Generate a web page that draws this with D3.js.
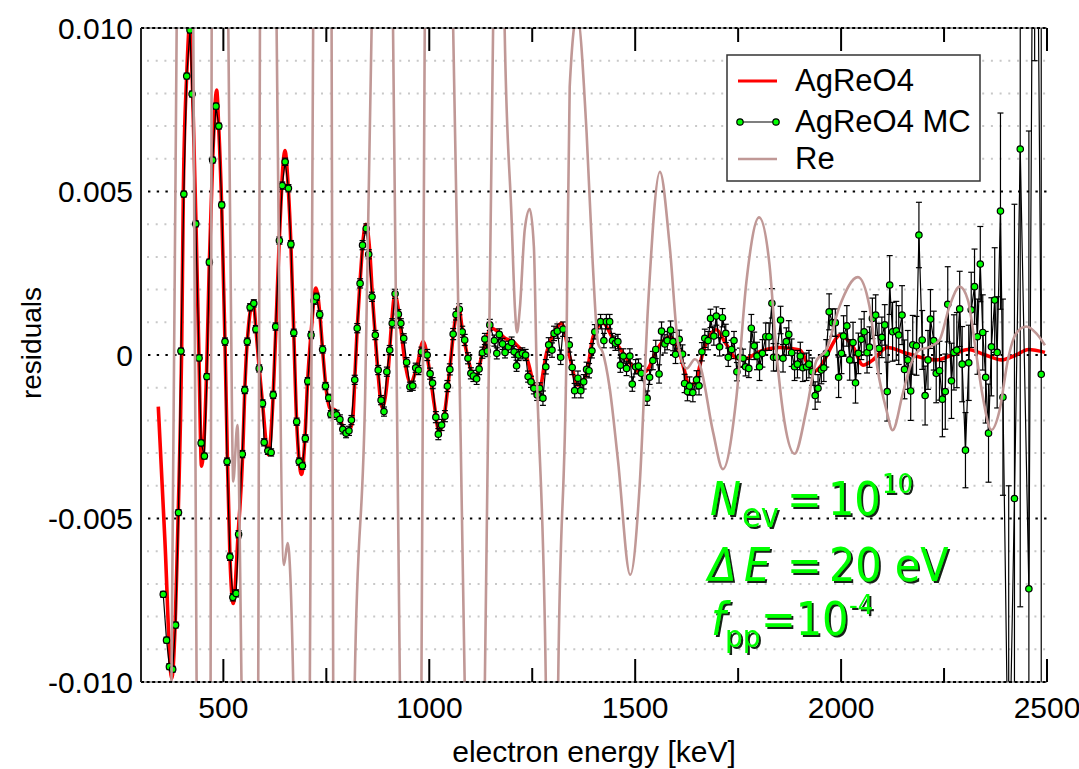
<!DOCTYPE html>
<html><head><meta charset="utf-8">
<script src="https://cdn.jsdelivr.net/npm/d3@7"></script>
<style>
body{margin:0;background:#fff}
svg{display:block}
text{font-family:"Liberation Sans",Arial,Helvetica,sans-serif}
</style>
</head><body>
<svg id="c" width="1079" height="769"></svg>
<script>
// ---------------- data ----------------
const xTicks = [500, 1000, 1500, 2000, 2500];
const xTickLabels = ["500", "1000", "1500", "2000", "2500"];
const xMinorTicks = [750, 1250, 1750, 2250];
const yTicks = [-0.010, -0.005, 0, 0.005, 0.010];
const yTickLabels = ["-0.010", "-0.005", "0", "0.005", "0.010"];
const yMinorGrid = [-0.009,-0.008,-0.007,-0.006,-0.004,-0.003,-0.002,-0.001,0.001,0.002,0.003,0.004,0.006,0.007,0.008,0.009];
const seriesNames = ["AgReO4", "AgReO4 MC", "Re"];

// AgReO4 (red curve): energy [keV] / residual
const agEnergy = [342,358,374.5,390.6,398.7,402.8,411,419,425.4,433.5,440.8,447,459,466,474,483.7,488.6,495.8,503.9,510,516,524,536,547,552,558,572.6,579,587,595,609,621,627.7,635.8,649.5,657.6,664,671,678,690,698,704.5,712.6,724.8,734.5,741,749,758.7,771,783,795,805.6,814,819,825,831.6,846,855.8,862,868.7,875,885.7,900,908.5,916.5,928.6,940.8,954.6,970,985,1002,1012,1024,1037,1050,1060,1071,1080,1094,1111,1130,1151,1163,1185,1204,1212,1236,1264,1285,1309,1321,1341,1361,1382,1398,1422,1446,1471,1495,1515,1530,1552,1584,1605,1618,1632,1648,1665,1697,1720,1746,1765,1802,1852,1900,1924,1932,1950,1964,1988,1997,2029,2053,2077,2112,2160,2231,2270,2308,2350,2390,2425,2455,2495];
const agResidual = [-1.58e-3,-5.66e-3,-9.89e-3,-4.74e-3,0.15e-3,4.95e-3,8.56e-3,10.2e-3,8.0e-3,4.03e-3,-0.09e-3,-3.4e-3,-0.66e-3,2.84e-3,5.96e-3,8.1e-3,7.0e-3,4.59e-3,0.41e-3,-3.26e-3,-6.17e-3,-7.6e-3,-5.45e-3,-3.0e-3,-1.07e-3,0.41e-3,1.65e-3,0.82e-3,-0.4e-3,-1.47e-3,-3.05e-3,-1.22e-3,0.87e-3,3.52e-3,6.25e-3,5.1e-3,3.39e-3,0.66e-3,-2.04e-3,-3.65e-3,-2.55e-3,-0.82e-3,0.61e-3,2.05e-3,1.22e-3,0.15e-3,-0.97e-3,-1.62e-3,-1.68e-3,-1.93e-3,-2.34e-3,-2.29e-3,-1.99e-3,-0.76e-3,0.82e-3,2.19e-3,4.0e-3,3.11e-3,1.78e-3,0.61e-3,-0.46e-3,-1.62e-3,-0.51e-3,0.97e-3,1.85e-3,1.05e-3,-0.2e-3,-0.85e-3,-0.35e-3,0.41e-3,-0.6e-3,-1.5e-3,-2.35e-3,-1.8e-3,-0.4e-3,0.8e-3,1.5e-3,0.8e-3,-0.1e-3,-0.75e-3,0.1e-3,0.82e-3,0.75e-3,0.5e-3,0.41e-3,0.31e-3,-0.07e-3,-1.22e-3,0.07e-3,0.82e-3,0.97e-3,-0.05e-3,-0.92e-3,-0.56e-3,0.56e-3,0.97e-3,0.51e-3,0.05e-3,-0.36e-3,-0.55e-3,-0.45e-3,0.15e-3,0.55e-3,0.2e-3,-0.4e-3,-0.95e-3,-0.75e-3,0.1e-3,0.77e-3,0.35e-3,-0.1e-3,-0.12e-3,0.1e-3,0.23e-3,0.15e-3,-0.41e-3,-0.51e-3,-0.35e-3,-0.05e-3,0.51e-3,0.61e-3,0.25e-3,-0.31e-3,-0.15e-3,0.23e-3,0.05e-3,-0.15e-3,0.0,0.17e-3,0.0,-0.15e-3,0.0,0.17e-3,0.08e-3];

// AgReO4 MC (points with error bars)
const mcEnergy = [
354,362,369,377,384,391,397,404,411,419,424,433,441,446,454,460,466,474,482,489,496,
504,509,516,523,531,537,546,552,558,565,574,579,587,595,599,608,616,621,627,636,643,650,658,664,671,678,684,692,699,705,713,720,726,734,741,748,756,761,769,
775,783,790,798,805,811,819,825,832,838,847,853,861,869,876,883,890,897,904,910,917,925,931,938,945,953,960,967,974,981,
995,1002,1008,1016,1022,1030,1038,1044,1050,1058,1065,1073,1080,1086,1094,1101,1107,1115,1121,1129,1135,1141,1147,1158,1164,1170,1178,1184,1192,1200,1206,1212,1217,1226,1234,1240,1247,1254,1262,1268,
1276,1283,1290,1298,1303,1311,1319,1325,1340,1347,1353,1361,1368,1375,1382,1388,1395,1402,1416,1424,1430,1438,1445,1452,1458,1464,1471,1479,1487,1493,1501,1508,1515,1529,1535,
1543,1550,1558,1564,1572,1578,1586,1592,1598,1607,1615,1620,1627,1632,1640,1649,1655,1662,1669,1677,1683,1691,1697,1705,1712,1720,1726,1734,1740,1747,1754,1762,1768,1776,
1782,1789,1796,1802,1809,1817,1825,1832,1836,1843,1853,1859,1867,1873,1880,1887,1894,1901,1907,1916,1922,1930,1937,1944,1952,1958,1964,1971,1979,1986,
1994,2001,2006,2014,2021,2029,2035,2042,2049,2056,2063,2069,2076,2084,2092,2099,2106,
2112,2118,2125,2134,2140,2148,2154,2162,2169,2174,2183,2189,2197,2204,2211,2217,2225,2231,2239,
2246,2253,2259,2268,2274,2281,2288,2294,2302,2310,2316,2324,2331,2338,2344,
2351,2358,2365,2373,2379,2387,2393,
2407,2421,2435,2456,2470,2486];
const mcResidual = [
-7.32e-3,-8.72e-3,-9.53e-3,-9.61e-3,-8.26e-3,-4.82e-3,0.12e-3,4.92e-3,8.53e-3,9.94e-3,7.98e-3,4.01e-3,-0.09e-3,-2.69e-3,-3.09e-3,-0.66e-3,2.84e-3,5.96e-3,7.61e-3,7.00e-3,4.59e-3,
0.41e-3,-3.26e-3,-6.17e-3,-7.41e-3,-7.29e-3,-5.48e-3,-3.03e-3,-1.07e-3,0.41e-3,1.46e-3,1.58e-3,0.79e-3,-0.41e-3,-1.48e-3,-2.67e-3,-2.93e-3,-2.98e-3,-1.22e-3,0.87e-3,3.50e-3,5.18e-3,5.91e-3,5.10e-3,3.39e-3,0.68e-3,-2.04e-3,-3.26e-3,-3.39e-3,-2.55e-3,-0.80e-3,0.61e-3,1.66e-3,1.78e-3,1.24e-3,0.17e-3,-0.95e-3,-1.31e-3,-1.81e-3,-1.78e-3,
-1.83e-3,-1.97e-3,-2.27e-3,-2.39e-3,-2.32e-3,-1.99e-3,-0.76e-3,0.82e-3,2.19e-3,3.36e-3,3.87e-3,3.08e-3,1.78e-3,0.61e-3,-0.46e-3,-1.38e-3,-1.73e-3,-0.51e-3,0.15e-3,0.97e-3,1.87e-3,1.25e-3,0.97e-3,0.51e-3,-0.22e-3,-0.97e-3,-0.94e-3,-0.39e-3,-0.46e-3,0.10e-3,
0.00,-0.57e-3,-0.86e-3,-1.90e-3,-2.42e-3,-2.14e-3,-1.87e-3,-0.95e-3,-0.44e-3,0.64e-3,1.24e-3,1.40e-3,0.71e-3,0.46e-3,-0.10e-3,-0.56e-3,-0.64e-3,-0.73e-3,-0.43e-3,0.07e-3,0.49e-3,0.12e-3,0.92e-3,0.44e-3,0.05e-3,0.63e-3,0.34e-3,0.08e-3,0.25e-3,0.38e-3,0.10e-3,-0.33e-3,0.00,0.05e-3,0.00,-0.66e-3,-0.82e-3,-1.02e-3,-1.22e-3,-1.02e-3,
-1.32e-3,-0.36e-3,0.31e-3,0.15e-3,0.66e-3,0.73e-3,-0.07e-3,0.79e-3,0.31e-3,-0.38e-3,-1.09e-3,-0.71e-3,-1.09e-3,-0.82e-3,-0.44e-3,-0.48e-3,0.13e-3,0.71e-3,1.02e-3,0.44e-3,1.02e-3,1.02e-3,0.44e-3,0.36e-3,0.41e-3,-0.31e-3,-0.03e-3,-0.41e-3,-0.03e-3,-0.89e-3,-0.36e-3,-0.34e-3,-0.56e-3,-1.32e-3,-0.68e-3,
-0.17e-3,0.17e-3,-0.58e-3,0.73e-3,0.34e-3,0.44e-3,0.76e-3,0.41e-3,0.02e-3,0.48e-3,0.03e-3,-0.87e-3,-1.12e-3,-0.95e-3,-1.15e-3,-0.76e-3,-0.94e-3,0.10e-3,0.51e-3,0.44e-3,1.12e-3,0.58e-3,1.19e-3,0.25e-3,1.14e-3,0.66e-3,-0.07e-3,0.17e-3,0.44e-3,-0.51e-3,-0.07e-3,-0.10e-3,-0.36e-3,-0.41e-3,
0.82e-3,0.28e-3,-0.03e-3,-0.36e-3,0.05e-3,0.56e-3,0.56e-3,1.58e-3,-0.07e-3,-0.07e-3,1.07e-3,-0.10e-3,0.41e-3,0.63e-3,0.07e-3,-0.36e-3,-0.28e-3,-0.03e-3,-0.39e-3,-0.36e-3,-0.28e-3,-0.51e-3,-1.24e-3,-1.02e-3,-0.46e-3,-0.39e-3,0.05e-3,1.32e-3,0.99e-3,0.99e-3,
-0.68e-3,0.05e-3,0.58e-3,0.89e-3,-0.15e-3,0.38e-3,-0.85e-3,0.05e-3,0.48e-3,0.71e-3,0.07e-3,0.24e-3,1.12e-3,1.22e-3,0.20e-3,0.54e-3,0.92e-3,
-1.12e-3,2.14e-3,0.71e-3,0.74e-3,0.61e-3,1.22e-3,-0.44e-3,-0.15e-3,-1.10e-3,0.31e-3,0.28e-3,3.67e-3,0.46e-3,-1.24e-3,-0.15e-3,1.10e-3,0.44e-3,-0.56e-3,-0.48e-3,
-1.35e-3,-1.12e-3,1.55e-3,-0.79e-3,0.08e-3,0.15e-3,1.41e-3,-0.28e-3,-2.91e-3,-0.24e-3,1.38e-3,2.09e-3,0.56e-3,2.78e-3,0.69e-3,
-0.68e-3,-2.39e-3,0.25e-3,1.68e-3,0.08e-3,4.40e-3,-1.29e-3,
-14e-3,-4.39e-3,6.30e-3,-7.15e-3,25e-3,-0.59e-3];
const mcError = [
0.09e-3,0.09e-3,0.09e-3,0.09e-3,0.09e-3,0.09e-3,0.09e-3,0.09e-3,0.09e-3,0.09e-3,0.09e-3,0.09e-3,0.09e-3,0.09e-3,0.09e-3,0.09e-3,0.09e-3,0.09e-3,0.09e-3,0.09e-3,0.09e-3,
0.11e-3,0.11e-3,0.11e-3,0.11e-3,0.11e-3,0.11e-3,0.11e-3,0.11e-3,0.11e-3,0.11e-3,0.11e-3,0.11e-3,0.11e-3,0.11e-3,0.11e-3,0.11e-3,0.11e-3,0.11e-3,0.11e-3,0.11e-3,0.11e-3,0.11e-3,0.11e-3,0.11e-3,0.11e-3,0.11e-3,0.11e-3,0.11e-3,0.11e-3,0.11e-3,0.11e-3,0.11e-3,0.11e-3,0.11e-3,0.11e-3,0.11e-3,0.11e-3,0.11e-3,0.11e-3,
0.14e-3,0.14e-3,0.14e-3,0.14e-3,0.14e-3,0.14e-3,0.14e-3,0.14e-3,0.14e-3,0.14e-3,0.14e-3,0.14e-3,0.14e-3,0.14e-3,0.14e-3,0.14e-3,0.14e-3,0.14e-3,0.14e-3,0.14e-3,0.14e-3,0.14e-3,0.14e-3,0.14e-3,0.14e-3,0.14e-3,0.14e-3,0.14e-3,0.14e-3,0.14e-3,
0.17e-3,0.17e-3,0.17e-3,0.17e-3,0.17e-3,0.17e-3,0.17e-3,0.17e-3,0.17e-3,0.17e-3,0.17e-3,0.17e-3,0.17e-3,0.17e-3,0.17e-3,0.17e-3,0.17e-3,0.17e-3,0.17e-3,0.17e-3,0.17e-3,0.17e-3,0.17e-3,0.17e-3,0.17e-3,0.17e-3,0.17e-3,0.17e-3,0.17e-3,0.17e-3,0.17e-3,0.17e-3,0.17e-3,0.17e-3,0.17e-3,0.17e-3,0.17e-3,0.17e-3,0.17e-3,0.17e-3,
0.22e-3,0.22e-3,0.22e-3,0.22e-3,0.22e-3,0.22e-3,0.22e-3,0.22e-3,0.22e-3,0.22e-3,0.22e-3,0.22e-3,0.22e-3,0.22e-3,0.22e-3,0.22e-3,0.22e-3,0.22e-3,0.22e-3,0.22e-3,0.22e-3,0.22e-3,0.22e-3,0.22e-3,0.22e-3,0.22e-3,0.22e-3,0.22e-3,0.22e-3,0.22e-3,0.22e-3,0.22e-3,0.22e-3,0.22e-3,0.22e-3,
0.28e-3,0.28e-3,0.28e-3,0.28e-3,0.28e-3,0.28e-3,0.28e-3,0.28e-3,0.28e-3,0.28e-3,0.28e-3,0.28e-3,0.28e-3,0.28e-3,0.28e-3,0.28e-3,0.28e-3,0.28e-3,0.28e-3,0.28e-3,0.28e-3,0.28e-3,0.28e-3,0.28e-3,0.28e-3,0.28e-3,0.28e-3,0.28e-3,0.28e-3,0.28e-3,0.28e-3,0.28e-3,0.28e-3,0.28e-3,
0.42e-3,0.42e-3,0.42e-3,0.42e-3,0.42e-3,0.42e-3,0.42e-3,0.45e-3,0.42e-3,0.42e-3,0.42e-3,0.42e-3,0.42e-3,0.42e-3,0.42e-3,0.42e-3,0.42e-3,0.42e-3,0.42e-3,0.42e-3,0.42e-3,0.42e-3,0.42e-3,0.42e-3,0.42e-3,0.42e-3,0.42e-3,0.55e-3,0.42e-3,0.42e-3,
0.62e-3,0.62e-3,0.62e-3,0.62e-3,0.62e-3,0.62e-3,0.62e-3,0.62e-3,0.62e-3,0.62e-3,0.62e-3,0.62e-3,0.62e-3,0.62e-3,0.77e-3,0.62e-3,0.62e-3,
0.9e-3,0.9e-3,0.9e-3,0.9e-3,0.9e-3,0.9e-3,0.9e-3,0.9e-3,0.9e-3,0.9e-3,0.9e-3,1.0e-3,0.9e-3,0.9e-3,0.9e-3,0.9e-3,0.9e-3,0.9e-3,0.9e-3,
1.15e-3,1.15e-3,1.15e-3,1.15e-3,1.15e-3,1.15e-3,1.15e-3,1.15e-3,1.15e-3,1.15e-3,1.15e-3,1.15e-3,1.15e-3,1.15e-3,1.15e-3,
1.4e-3,1.5e-3,1.5e-3,1.6e-3,1.7e-3,3.0e-3,3.0e-3,
10e-3,9e-3,14e-3,14e-3,16e-3,15e-3];

// Re (brown curve)
const reEnergy = [342,374,386.6,407,427,435,452,469,471.6,492,512,518,524,534,544,565,584.7,588.8,609,629.3,647,656,669.6,690,710,718,740,762.8,766.7,793,819,844,860,886,912,928.6,955,981,989,1023,1058,1072.5,1086,1110,1135,1145,1155,1169,1183,1200,1208,1213,1220,1232,1244,1254,1260,1283,1298,1313,1333,1341,1359,1382,1397,1410,1421,1438,1458,1488,1511,1531,1560,1584,1604,1625,1645,1657,1689,1713,1746,1770,1801,1826,1843,1863,1887,1916,1940,1964,1996,2041,2069,2089,2110,2125,2150,2170,2190,2215,2239,2263,2288,2308,2328,2344,2365,2385,2405,2425,2450,2474,2495];
const reResidual = [-40e-3,-10e-3,10e-3,45e-3,10e-3,-10e-3,-45e-3,-10e-3,10e-3,45e-3,10e-3,2e-3,-3.87e-3,-2.14e-3,-10e-3,-40e-3,-10e-3,10e-3,40e-3,10e-3,-6.42e-3,-5.75e-3,-10e-3,-40e-3,-10e-3,10e-3,40e-3,10e-3,-10e-3,-40e-3,-10e-3,-1.4e-3,10e-3,40e-3,10e-3,-10e-3,-40e-3,-10e-3,10e-3,40e-3,10e-3,0,-10e-3,-40e-3,-10e-3,0,10e-3,25e-3,10e-3,4.13e-3,1.43e-3,0.69e-3,1.43e-3,3.85e-3,4.46e-3,3.31e-3,0,-10e-3,-30e-3,-10e-3,0,8.2e-3,10.4e-3,6.8e-3,2.78e-3,0.35e-3,0.09e-3,-1.0e-3,-3.2e-3,-6.72e-3,-3.96e-3,1.44e-3,5.6e-3,3.31e-3,0.35e-3,-0.41e-3,-0.13e-3,-0.31e-3,-2.35e-3,-3.49e-3,-1.27e-3,2.23e-3,4.21e-3,2.78e-3,0.08e-3,-2.08e-3,-3.02e-3,-1.67e-3,-0.18e-3,0.15e-3,1.48e-3,2.38e-3,1.48e-3,-0.46e-3,-1.68e-3,-2.3e-3,-1.17e-3,-0.26e-3,0.15e-3,0.25e-3,0.46e-3,1.48e-3,2.09e-3,1.68e-3,0.05e-3,-1.27e-3,-2.29e-3,-1.68e-3,-0.15e-3,0.66e-3,0.87e-3,0.66e-3,0.3e-3];

// annotation lines (pieces with their own placement)
const annotationLines = [
  [{t:"N", x:710, y:515, s:46, it:true}, {t:"ev", x:742, y:527, s:34}, {t:"=", x:787, y:515, s:46},
   {t:"10", x:828, y:515, s:46}, {t:"10", x:882, y:493, s:27}],
  [{t:"\u0394", x:708, y:581, s:46, it:true}, {t:"E", x:744, y:581, s:46, it:true}, {t:"=", x:787, y:581, s:46},
   {t:"20 eV", x:829, y:581, s:46}],
  [{t:"f", x:711, y:635, s:46, it:true}, {t:"pp", x:725, y:647, s:31}, {t:"=10", x:761, y:635, s:46},
   {t:"-4", x:849, y:614, s:27}]
];

// ---------------- drawing ----------------
const M = {left:141, right:1047, top:28, bottom:682};
const x = d3.scaleLinear().domain([300, 2500]).range([M.left, M.right]);
const y = d3.scaleLinear().domain([-0.010, 0.010]).range([M.bottom, M.top]);
const svg = d3.select("#c");
svg.append("rect").attr("width",1079).attr("height",769).attr("fill","#fff");
const defs = svg.append("defs");
defs.append("clipPath").attr("id","clip").append("rect")
  .attr("x",M.left).attr("y",M.top).attr("width",M.right-M.left).attr("height",M.bottom-M.top);
const flt = defs.append("filter").attr("id","shadow").attr("x","-10%").attr("y","-20%").attr("width","130%").attr("height","150%");
flt.append("feDropShadow").attr("dx",2).attr("dy",2).attr("stdDeviation",0.3)
  .attr("flood-color","#142014").attr("flood-opacity",1);

// minor grid
svg.append("g").selectAll("line").data(yMinorGrid).join("line")
  .attr("x1",M.left+6).attr("x2",M.right).attr("y1",d=>y(d)).attr("y2",d=>y(d))
  .attr("stroke","#c8c8c8").attr("stroke-width",2).attr("stroke-dasharray","2,6.7");
// major grid
svg.append("g").selectAll("line").data(yTicks.filter(d=>Math.abs(d)<0.009)).join("line")
  .attr("x1",M.left+7).attr("x2",M.right).attr("y1",d=>y(d)).attr("y2",d=>y(d))
  .attr("stroke","#000").attr("stroke-width",2.2).attr("stroke-dasharray","2.4,6.3");

const plot = svg.append("g").attr("clip-path","url(#clip)");
const idx = a => d3.range(a.length);

// AgReO4 red
plot.append("path").datum(idx(agEnergy))
  .attr("d", d3.line().x(i=>x(agEnergy[i])).y(i=>y(agResidual[i])).curve(d3.curveMonotoneX))
  .attr("fill","none").attr("stroke","#ff0000").attr("stroke-width",3.6).attr("stroke-linejoin","round");

// MC line
plot.append("path").datum(idx(mcEnergy))
  .attr("d", d3.line().x(i=>x(mcEnergy[i])).y(i=>y(mcResidual[i])))
  .attr("fill","none").attr("stroke","#000").attr("stroke-width",1.2);
// MC error bars
const eb = plot.append("g").attr("stroke","#000").attr("stroke-width",1.2);
idx(mcEnergy).forEach(i=>{
  const px = x(mcEnergy[i]), y1 = y(mcResidual[i]-mcError[i]), y2 = y(mcResidual[i]+mcError[i]);
  eb.append("line").attr("x1",px).attr("x2",px).attr("y1",y1).attr("y2",y2);
  eb.append("line").attr("x1",px-3).attr("x2",px+3).attr("y1",y1).attr("y2",y1);
  eb.append("line").attr("x1",px-3).attr("x2",px+3).attr("y1",y2).attr("y2",y2);
});
// MC markers
plot.append("g").selectAll("circle").data(idx(mcEnergy)).join("circle")
  .attr("cx",i=>x(mcEnergy[i])).attr("cy",i=>y(mcResidual[i])).attr("r",3.2)
  .attr("fill","#00ff00").attr("stroke","#000").attr("stroke-width",1.2);

// Re curve
plot.append("path").datum(idx(reEnergy))
  .attr("d", d3.line().x(i=>x(reEnergy[i])).y(i=>y(reResidual[i])).curve(d3.curveMonotoneX))
  .attr("fill","none").attr("stroke","#c09896").attr("stroke-width",2.6).attr("stroke-linejoin","round");

// frame: top / bottom dotted, left solid
[M.top, M.bottom].forEach(py=>{
  svg.append("line").attr("x1",M.left).attr("x2",M.right).attr("y1",py).attr("y2",py)
    .attr("stroke","#555").attr("stroke-width",1);
  svg.append("line").attr("x1",M.left).attr("x2",M.right).attr("y1",py).attr("y2",py)
    .attr("stroke","#000").attr("stroke-width",2.2).attr("stroke-dasharray","3,2.6");
});
svg.append("line").attr("x1",M.left).attr("x2",M.left).attr("y1",M.top).attr("y2",M.bottom)
  .attr("stroke","#222").attr("stroke-width",2);

// ticks on top and bottom (inward)
const tk = svg.append("g").attr("stroke","#000").attr("stroke-width",2);
xTicks.forEach(v=>{
  tk.append("line").attr("x1",x(v)).attr("x2",x(v)).attr("y1",M.top).attr("y2",M.top+23);
  tk.append("line").attr("x1",x(v)).attr("x2",x(v)).attr("y1",M.bottom).attr("y2",M.bottom-23);
});
xMinorTicks.forEach(v=>{
  tk.append("line").attr("x1",x(v)).attr("x2",x(v)).attr("y1",M.top).attr("y2",M.top+14);
  tk.append("line").attr("x1",x(v)).attr("x2",x(v)).attr("y1",M.bottom).attr("y2",M.bottom-14);
});

// tick labels
svg.append("g").selectAll("text").data(xTicks).join("text")
  .attr("x",d=>x(d)).attr("y",718).attr("text-anchor","middle").attr("font-size",30)
  .text((d,i)=>xTickLabels[i]);
svg.append("g").selectAll("text").data(yTicks).join("text")
  .attr("x",133).attr("y",d=>y(d)).attr("dy","0.36em").attr("text-anchor","end").attr("font-size",30)
  .text((d,i)=>yTickLabels[i]);

// axis titles
svg.append("text").attr("x",(M.left+M.right)/2).attr("y",762).attr("text-anchor","middle")
  .attr("font-size",30).text("electron energy [keV]");
svg.append("text").attr("transform","translate(41,343) rotate(-90)").attr("text-anchor","middle")
  .attr("font-size",28).text("residuals");

// legend
const lg = svg.append("g");
lg.append("rect").attr("x",727).attr("y",55).attr("width",253).attr("height",126)
  .attr("fill","#fff").attr("stroke","#333").attr("stroke-width",1.5);
const legY = [81, 122, 159];
lg.append("line").attr("x1",738).attr("x2",777).attr("y1",legY[0]).attr("y2",legY[0]).attr("stroke","#ff0000").attr("stroke-width",3);
lg.append("line").attr("x1",740).attr("x2",776).attr("y1",legY[1]).attr("y2",legY[1]).attr("stroke","#000").attr("stroke-width",1.2);
[740,776].forEach(px=>lg.append("circle").attr("cx",px).attr("cy",legY[1]).attr("r",3.2).attr("fill","#00ff00").attr("stroke","#000").attr("stroke-width",1.2));
lg.append("line").attr("x1",738).attr("x2",777).attr("y1",legY[2]).attr("y2",legY[2]).attr("stroke","#c09896").attr("stroke-width",2.6);
seriesNames.forEach((s,i)=>{
  lg.append("text").attr("x",795).attr("y",legY[i]+10).attr("font-size",31).text(s);
});

// green annotation (one text element per line, tspans placed absolutely, drop shadow)
const an = svg.append("g").attr("filter","url(#shadow)");
annotationLines.forEach(line=>{
  const t = an.append("text").attr("fill","#00ff00")
    .style("font-family","'DejaVu Sans Condensed','DejaVu Sans',sans-serif");
  line.forEach(a=>{
    t.append("tspan").attr("x",a.x).attr("y",a.y).attr("font-size",a.s)
      .attr("font-style",a.it?"italic":"normal").text(a.t);
  });
});
</script>
</body></html>
